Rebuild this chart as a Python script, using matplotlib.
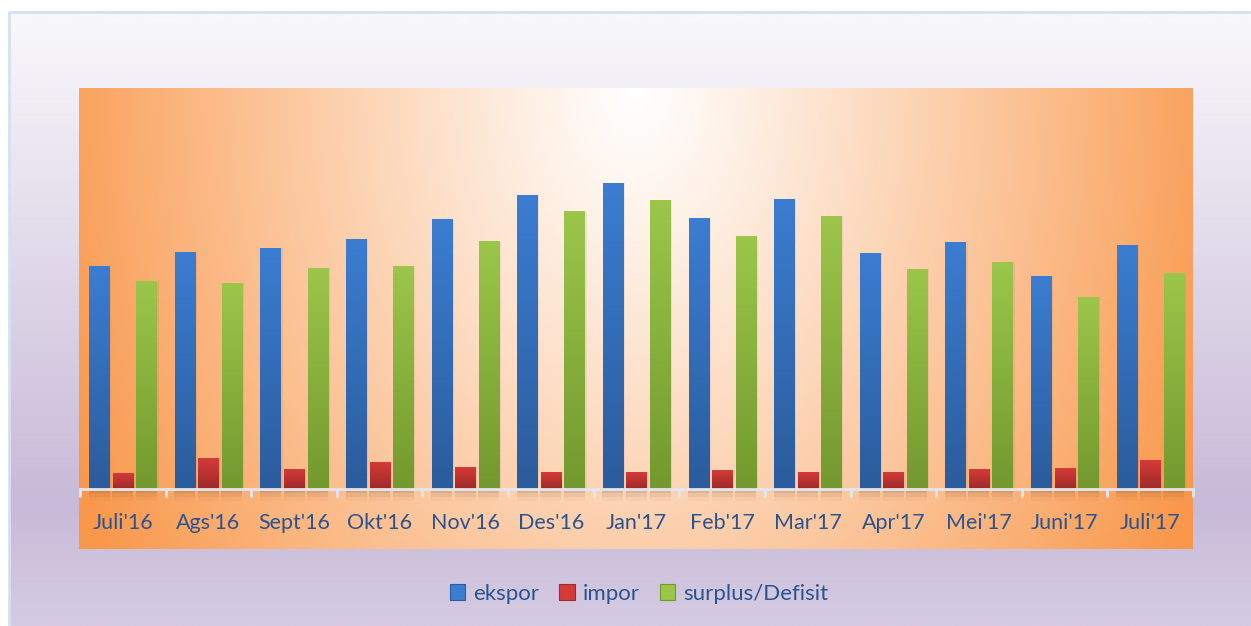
import numpy as np
import matplotlib.pyplot as plt
from matplotlib.colors import to_rgb, LinearSegmentedColormap
from matplotlib.patches import Rectangle

# Data (in pixel-height units)
months = ["Juli'16", "Ags'16", "Sept'16", "Okt'16", "Nov'16", "Des'16", "Jan'17",
          "Feb'17", "Mar'17", "Apr'17", "Mei'17", "Juni'17", "Juli'17"]
ekspor = [223, 237, 241, 250, 270, 294, 306, 271, 290, 236, 247, 213, 244]
impor = [16, 31, 20, 27, 22, 17, 17, 19, 17, 17, 20, 21, 29]
surplus = [208, 206, 221, 223, 248, 278, 289, 253, 273, 220, 227, 192, 216]

W, H = 1251, 626
fig = plt.figure(figsize=(W / 100, H / 100), dpi=100)
fig.patch.set_facecolor('white')

# Outer background: white above / left of the thin blue border, vertical purple gradient inside
bg = fig.add_axes([0, 0, 1, 1], zorder=-10)
bg.set_xlim(0, W)
bg.set_ylim(H, 0)
bg.axis('off')
ys = np.linspace(0, H, 300)
top, mid, bot = np.array(to_rgb('#f8f7fa')), np.array(to_rgb('#c8bad8')), np.array(to_rgb('#d5cbe2'))
cols = []
for y in ys:
    if y < 500:
        t = max(0, (y - 12) / (500 - 12))
        cols.append(top + (mid - top) * t)
    else:
        t = (y - 500) / (H - 500)
        cols.append(mid + (bot - mid) * t)
grad = np.array(cols)[:, None, :]
bg.imshow(grad, extent=[9, W, H, 12], aspect='auto')
bg.plot([9, 9, W], [H, 12, 12], color='#d5e1f1', lw=2)

# Plot area background: radial white-to-orange gradient
pa = fig.add_axes([79 / W, 1 - 549 / H, (1193 - 79) / W, (549 - 88) / H], zorder=-5)
pa.axis('off')
gx, gy = np.meshgrid(np.linspace(0, 1, 400), np.linspace(0, 1, 200))
d = np.clip(np.sqrt(((gx - 0.5) / 0.56) ** 2 + (gy / 2.0) ** 2), 0, 1) ** 1.1
white, orange = np.array([1.0, 1.0, 1.0]), np.array(to_rgb('#f9974a'))
img = white[None, None, :] * (1 - d[..., None]) + orange[None, None, :] * d[..., None]
pa.imshow(img, extent=[0, 1, 1, 0], aspect='auto')
pa.set_xlim(0, 1)
pa.set_ylim(1, 0)

# Main chart axes
ax = fig.add_axes([80 / W, 1 - 489 / H, (1193 - 80) / W, (489 - 88) / H])
ax.patch.set_alpha(0)

x = np.arange(len(months))
bw = 0.234
off = 0.275
series = [
    (ekspor, -off, '#3b7dd1', '#2b5c9c', 'ekspor'),
    (impor, 0, '#d43b37', '#9e2a29', 'impor'),
    (surplus, off, '#9cc64a', '#73992f', 'surplus/Defisit'),
]
handles = []
for vals, o, c_top, c_bot, lab in series:
    # soft shadow under the bars, below the axis line
    for k, a in [(4, 0.10), (8, 0.07), (12, 0.04)]:
        ax.bar(x + o, k, bw * 1.05, bottom=-k, color='#6a3a20', alpha=a, zorder=1, clip_on=False)
    ax.bar(x + o + 0.025, vals, bw, color='#8a5a40', alpha=0.10, zorder=1)
    bars = ax.bar(x + o, vals, bw, color=c_top, zorder=2, label=lab)
    cmap = LinearSegmentedColormap.from_list(lab, [c_bot, c_top])
    for b in bars:
        bx, by = b.get_x(), b.get_y()
        im = ax.imshow(np.linspace(0, 1, 100)[:, None], cmap=cmap, origin='lower',
                       extent=[bx, bx + b.get_width(), by, by + b.get_height()],
                       aspect='auto', zorder=3)
        im.set_clip_path(b)
    handles.append(Rectangle((0, 0), 1, 1, facecolor=c_top, edgecolor=c_bot, lw=0.8))
ax.set_xlim(-0.5, len(months) - 0.5)
ax.set_ylim(0, 401)

for s in ['top', 'right', 'left']:
    ax.spines[s].set_visible(False)
ax.spines['bottom'].set_color('#e2e6ee')
ax.spines['bottom'].set_linewidth(2)
ax.spines['bottom'].set_zorder(5)
ax.set_yticks([])
ax.set_xticks(np.arange(-0.5, len(months)), minor=True)
ax.set_xticks(x)
ax.set_xticklabels(months, fontsize=15.5, color='#2a5490', family='Lato')
ax.tick_params(axis='x', which='major', length=0, pad=17)
ax.tick_params(axis='x', which='minor', length=6, width=2, color='#e2e6ee')

fig.legend(handles, ['ekspor', 'impor', 'surplus/Defisit'], loc='center',
           bbox_to_anchor=(639 / W, 1 - 594 / H), ncol=3, frameon=False,
           prop={'family': 'Lato', 'size': 16}, labelcolor='#2a5490',
           handlelength=0.7, handleheight=0.7, handletextpad=0.35, columnspacing=0.9)

fig.savefig('out.png', dpi=100)
